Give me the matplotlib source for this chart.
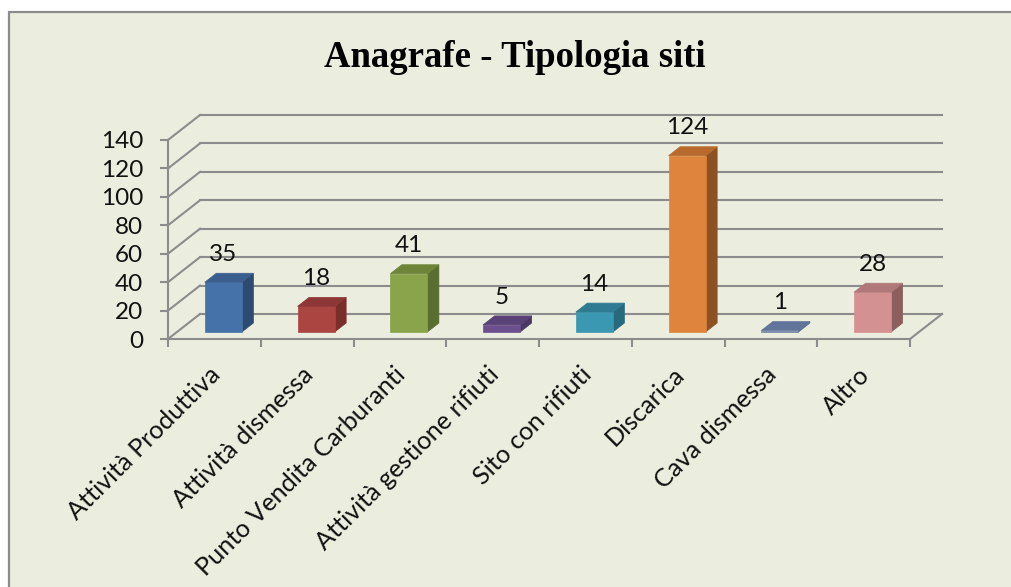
import matplotlib.pyplot as plt
from matplotlib.patches import Polygon, Rectangle

categories = ['Attività Produttiva', 'Attività dismessa', 'Punto Vendita Carburanti',
              'Attività gestione rifiuti', 'Sito con rifiuti', 'Discarica', 'Cava dismessa', 'Altro']
values = [35, 18, 41, 5, 14, 124, 1, 28]
y_ticks = [0, 20, 40, 60, 80, 100, 120, 140]

# front / top / side shades for each bar
front_colors = ['#4672AA', '#AA4542', '#8AA44C', '#6B4F8E', '#3B98B2', '#DE843C', '#7083AA', '#D49191']
top_colors = ['#3A5F8E', '#8C3735', '#6E8539', '#594277', '#2F7C92', '#B86A2C', '#63749A', '#B07878']
side_colors = ['#2E4A70', '#7A2E2C', '#5A6E30', '#4A3763', '#276A7E', '#8C5224', '#56678A', '#8C5E5E']

BG = '#EBEEDE'
GRID = '#8C8C8C'
LABEL_FONT = ['Lato', 'DejaVu Sans']

fig = plt.figure(figsize=(10.11, 5.87), dpi=100)
fig.patch.set_facecolor('white')
fig.patches.append(Rectangle((9 / 1011, -0.02), 1.0, (587 - 12) / 587 + 0.02, transform=fig.transFigure,
                             facecolor=BG, edgecolor=GRID, linewidth=1.6, zorder=-10))

fig.text(515 / 1011, (587 - 67) / 587, 'Anagrafe - Tipologia siti', ha='center', va='baseline',
         fontsize=26.5, fontweight='bold', family='Liberation Serif')

# front plane of the 3d box
ax = fig.add_axes([168 / 1011, (587 - 339) / 587, 742 / 1011, 199 / 587])
ax.set_xlim(0, len(categories))
ax.set_ylim(0, 140)
ax.patch.set_visible(False)
for s in ['top', 'right']:
    ax.spines[s].set_visible(False)
for s in ['left', 'bottom']:
    ax.spines[s].set_color(GRID)
    ax.spines[s].set_linewidth(1.5)

# depth of the box (32 x 25 px) in data units
px_x = 742 / len(categories)
px_y = 199 / 140
DX, DY = 32 / px_x, 25 / px_y
f0, f1 = 0.28, 0.64   # bar front/back position inside the depth

# back wall gridlines + left wall diagonals + floor
n = len(categories)
for v in y_ticks:
    ax.plot([DX, n + DX], [v + DY, v + DY], color=GRID, lw=1.5, clip_on=False, zorder=1)
    ax.plot([0, DX], [v, v + DY], color=GRID, lw=1.5, clip_on=False, zorder=1)
ax.plot([n, n + DX], [0, DY], color=GRID, lw=1.5, clip_on=False, zorder=1)

ax.set_yticks(y_ticks)
ax.set_yticklabels([str(v) for v in y_ticks], family=LABEL_FONT, fontsize=17.5, color='#111111')
ax.tick_params(axis='y', length=6, width=1.5, color=GRID, pad=12)
ax.set_xticks(range(n + 1))
ax.set_xticklabels([])
ax.tick_params(axis='x', length=5.5, width=1.5, color=GRID)

w = 0.4
for i, v in enumerate(values):
    xl, xr = i + 0.5 - w / 2, i + 0.5 + w / 2
    a0x, a0y = f0 * DX, f0 * DY
    a1x, a1y = f1 * DX, f1 * DY
    front = [(xl + a0x, a0y), (xr + a0x, a0y), (xr + a0x, v + a0y), (xl + a0x, v + a0y)]
    top = [(xl + a0x, v + a0y), (xr + a0x, v + a0y), (xr + a1x, v + a1y), (xl + a1x, v + a1y)]
    side = [(xr + a0x, a0y), (xr + a1x, a1y), (xr + a1x, v + a1y), (xr + a0x, v + a0y)]
    ax.add_patch(Polygon(side, closed=True, fc=side_colors[i], ec=side_colors[i], lw=0.5, zorder=3, clip_on=False))
    ax.add_patch(Polygon(front, closed=True, fc=front_colors[i], ec=front_colors[i], lw=0.5, zorder=3, clip_on=False))
    ax.add_patch(Polygon(top, closed=True, fc=top_colors[i], ec=top_colors[i], lw=0.5, zorder=4, clip_on=False))
    ax.annotate(str(v), xy=(i + 0.5 + a0x, v + a1y), xytext=(0, 13.5), textcoords='offset points',
                ha='center', va='center', family=LABEL_FONT, fontsize=17.5, color='#111111')

for i, name in enumerate(categories):
    ax.annotate(name, xy=(i + 0.5, 0), xytext=(1.5, -23), textcoords='offset points',
                ha='right', va='center', rotation=45, rotation_mode='anchor',
                family=LABEL_FONT, fontsize=18.2, color='#111111')

fig.savefig('out.png', dpi=100, facecolor=fig.get_facecolor())
